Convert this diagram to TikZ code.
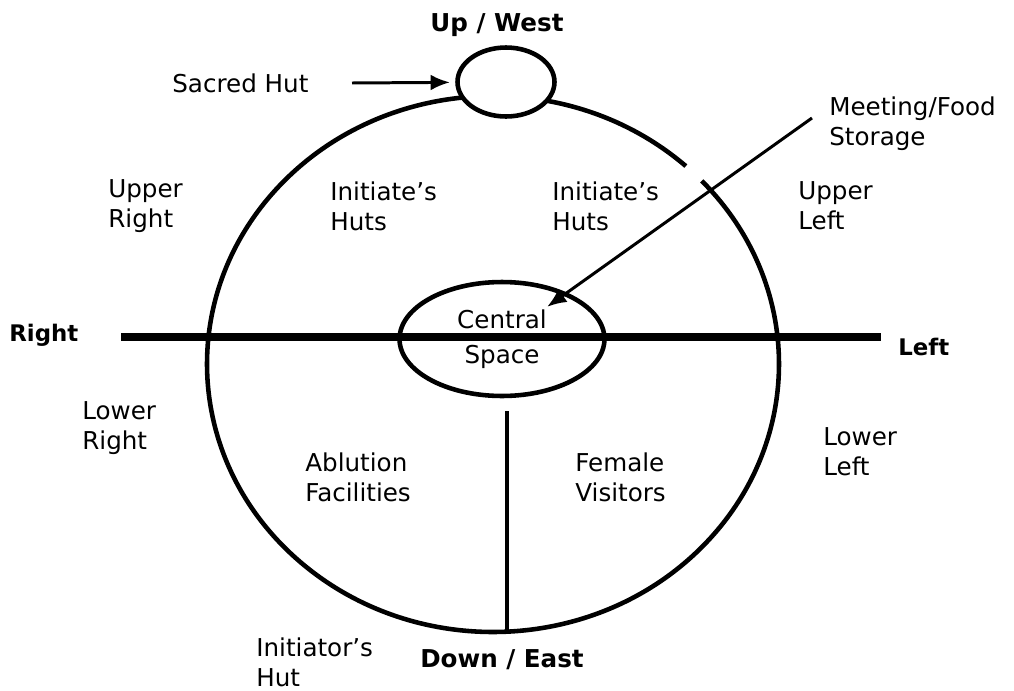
\documentclass[tikz,border=0pt]{standalone}
\usepackage{fontspec}
\setmainfont{DejaVu Sans}
\usepackage{tikz}
\usetikzlibrary{arrows.meta, shapes.geometric}
\usepackage{tkz-euclide}

\begin{document}
\begin{tikzpicture}[x=0.02cm, y=0.02cm,
    lbl/.style={align=left, anchor=west, inner sep=0pt, font=\fontsize{14pt}{17pt}\selectfont},
    dir/.style={inner sep=0pt, font=\bfseries\fontsize{14pt}{17pt}\selectfont},
    side/.style={anchor=west, inner sep=0pt, font=\bfseries\fontsize{13pt}{15pt}\selectfont},
    wall/.style={line width=2.6pt},
    hut/.style={draw, ellipse, line width=2.6pt, fill=white, inner sep=0pt},
    pointer/.style={line width=1.7pt, -{Latex[length=11pt,width=9pt]}}]
            \useasboundingbox (0,0) rectangle (1014,-690);
            \tkzDefPoint(493,-364){O}
            \tkzDefPoint(121,-337){R}
            \tkzDefPoint(881,-337){L}
            \tkzDefPoint(507,-411){D}
            \tkzDefPoint(507,-632){E}
            \tkzDefPoint(352,-83){S}
            \tkzDefPoint(812,-118){M}
            \draw[wall] (O) ++(47.6:286 and 268) arc[start angle=47.6, end angle=403.1, x radius=286, y radius=268];
            \node[hut, minimum width=1.94cm, minimum height=1.38cm] (sacred) at (506,-82) {};
            \node[hut, minimum width=4.1cm, minimum height=2.28cm, align=center,
                  font=\fontsize{14pt}{17pt}\selectfont] (central) at (502,-339) {Central\\[3pt]Space};
            \draw[line width=4pt] (R) -- (L);
            \draw[wall] (D) -- (E);
            \draw[pointer, shorten >=3pt] (S) -- (sacred);
            \draw[pointer, shorten >=-14pt] (M) -- (central);
            \node[dir] (up) at (497,-25) {Up / West};
            \node[dir] (down) at (502,-660) {Down / East};
            \node[side] (right) at (9,-335) {Right};
            \node[side] (left) at (898,-347) {Left};
            \node[lbl] (hutlbl) at (172,-83) {Sacred Hut};
            \node[lbl] (meeting) at (829,-124) {Meeting/Food\\Storage};
            \node[lbl] (ur) at (108,-206) {Upper\\Right};
            \node[lbl] (ihA) at (330,-206) {Initiate’s\\Huts};
            \node[lbl] (ihB) at (552,-206) {Initiate’s\\Huts};
            \node[lbl] (ul) at (798,-206) {Upper\\Left};
            \node[lbl] (lr) at (82,-428) {Lower\\Right};
            \node[lbl] (abl) at (305,-477) {Ablution\\Facilities};
            \node[lbl] (fem) at (575,-477) {Female\\Visitors};
            \node[lbl] (ll) at (823,-452) {Lower\\Left};
            \node[lbl] (initr) at (256,-662) {Initiator’s\\Hut};
        \end{tikzpicture}
\end{document}
